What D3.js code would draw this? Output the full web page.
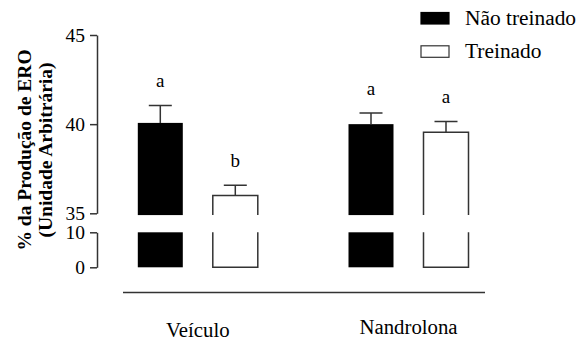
<!DOCTYPE html>
<meta charset="utf-8">
<script src="https://d3js.org/d3.v7.min.js"></script>
<style>
  body { margin: 0; background: #fff; }
  text { font-family: "Liberation Serif", "Times New Roman", serif; }
</style>
<div id="my_dataviz"></div>
<script>
  // data
  var groups = ["Veículo", "Nandrolona"]
  var series = ["Não treinado", "Treinado"]
  var naoTreinado = [40.07, 40.0]
  var treinado = [36.0, 39.55]
  var naoTreinadoSem = [0.98, 0.62]
  var treinadoSem = [0.58, 0.6]
  var lettersNaoTreinado = ["a", "a"]
  var lettersTreinado = ["b", "a"]
  var upperTicks = [35, 40, 45]
  var lowerTicks = [0, 10]

  var width = 577, height = 341
  var ink = "#333"

  var svg = d3.select("#my_dataviz")
    .append("svg")
      .attr("width", width)
      .attr("height", height)

  // broken y axis: two segments
  var yUp = d3.scaleLinear().domain([35, 45]).range([213.3, 35])
  var yLow = d3.scaleLinear().domain([0, 10]).range([267.3, 232.3])

  var x = d3.scalePoint().domain(groups).range([197.8, 408.5])
  var xs = d3.scaleBand().domain(series).range([-60, 60]).paddingInner(0.4).paddingOuter(0)

  var color = d3.scaleOrdinal().domain(series).range(["#000", "#fff"])

  var rows = []
  groups.forEach(function(g, i){
    rows.push({ group: g, s: series[0], v: naoTreinado[i], e: naoTreinadoSem[i], l: lettersNaoTreinado[i] })
    rows.push({ group: g, s: series[1], v: treinado[i], e: treinadoSem[i], l: lettersTreinado[i] })
  })

  var axisX = 97

  svg.append("g")
    .attr("transform", "translate(" + axisX + ",0)")
    .call(d3.axisLeft(yUp).tickValues(upperTicks).tickSize(7).tickSizeOuter(0).tickPadding(5))
  svg.append("g")
    .attr("transform", "translate(" + axisX + ",0)")
    .call(d3.axisLeft(yLow).tickValues(lowerTicks).tickSize(7).tickSizeOuter(0).tickPadding(5))

  svg.selectAll(".domain, .tick line").attr("stroke", ink).attr("stroke-width", 1.5)
  svg.selectAll(".tick text")
    .attr("font-size", 19.5)
    .attr("fill", "#000")
    .style("font-family", '"Liberation Serif", serif')

  // y title
  var title = svg.append("text")
    .attr("transform", "translate(31,150) rotate(-90)")
    .attr("text-anchor", "middle")
    .attr("font-weight", "bold")
    .attr("font-size", 19.5)
  title.append("tspan").attr("x", 0).attr("y", 0).text("% da Produção de ERO")
  title.append("tspan").attr("x", 0).attr("y", 20.5).text("(Unidade Arbitrária)")

  var bars = svg.append("g")

  function left(d){ return x(d.group) + xs(d.s) }

  // upper segment
  bars.selectAll(".upPart")
    .data(rows)
    .enter()
    .append("rect")
      .attr("x", left)
      .attr("y", function(d){ return yUp(d.v) })
      .attr("width", xs.bandwidth())
      .attr("height", function(d){ return yUp(34.9) - yUp(d.v) })
      .attr("fill", function(d){ return color(d.s) })

  // lower segment
  bars.selectAll(".lowPart")
    .data(rows)
    .enter()
    .append("rect")
      .attr("x", left)
      .attr("y", yLow(10))
      .attr("width", xs.bandwidth())
      .attr("height", yLow(0) - yLow(10))
      .attr("fill", function(d){ return color(d.s) })

  // outlines for the open bars (no line across the break)
  var open = rows.filter(function(d){ return d.s == series[1] })
  bars.selectAll(".outUp")
    .data(open)
    .enter()
    .append("path")
      .attr("d", function(d){
        var x0 = left(d), x1 = x0 + xs.bandwidth()
        return "M" + x0 + "," + yUp(34.9) + "V" + yUp(d.v) + "H" + x1 + "V" + yUp(34.9)
      })
      .attr("fill", "none").attr("stroke", ink).attr("stroke-width", 1.5)
  bars.selectAll(".outLow")
    .data(open)
    .enter()
    .append("path")
      .attr("d", function(d){
        var x0 = left(d), x1 = x0 + xs.bandwidth()
        return "M" + x0 + "," + yLow(10) + "V" + yLow(0) + "H" + x1 + "V" + yLow(10)
      })
      .attr("fill", "none").attr("stroke", ink).attr("stroke-width", 1.5)

  // error bars (upper only)
  svg.append("g").selectAll("path")
    .data(rows)
    .enter()
    .append("path")
      .attr("d", function(d){
        var cx = left(d) + xs.bandwidth() / 2
        return "M" + cx + "," + yUp(d.v) + "V" + yUp(d.v + d.e) +
               "M" + (cx - 11.5) + "," + yUp(d.v + d.e) + "H" + (cx + 11.5)
      })
      .attr("fill", "none").attr("stroke", ink).attr("stroke-width", 1.5)

  // significance letters
  svg.append("g").selectAll("text")
    .data(rows)
    .enter()
    .append("text")
      .attr("x", function(d){ return left(d) + xs.bandwidth() / 2 })
      .attr("y", function(d){ return yUp(d.v + d.e) - 18 })
      .attr("text-anchor", "middle")
      .attr("font-size", 19)
      .text(function(d){ return d.l })

  // x baseline and group labels
  svg.append("line")
    .attr("x1", 123).attr("x2", 485)
    .attr("y1", 292.5).attr("y2", 292.5)
    .attr("stroke", ink).attr("stroke-width", 1.5)

  svg.append("g").selectAll("text")
    .data(groups)
    .enter()
    .append("text")
      .attr("transform", function(d, i){
        return "translate(" + x(d) + "," + (i == 0 ? 337 : 334) + ") scale(1.04,1)"
      })
      .attr("text-anchor", "middle")
      .attr("font-size", 20)
      .text(function(d){ return d })

  // legend
  var legend = svg.append("g").selectAll("g")
    .data(series)
    .enter()
    .append("g")
      .attr("transform", function(d, i){ return "translate(421," + (12.5 + i * 33.3) + ")" })
  legend.append("rect")
    .attr("width", 28)
    .attr("height", 11.5)
    .attr("fill", function(d){ return color(d) })
    .attr("stroke", function(d, i){ return i == 0 ? "#000" : ink })
    .attr("stroke-width", 1.2)
  legend.append("text")
    .attr("transform", "translate(44,12) scale(1.07,1)")
    .attr("font-size", 20)
    .text(function(d){ return d })
</script>
